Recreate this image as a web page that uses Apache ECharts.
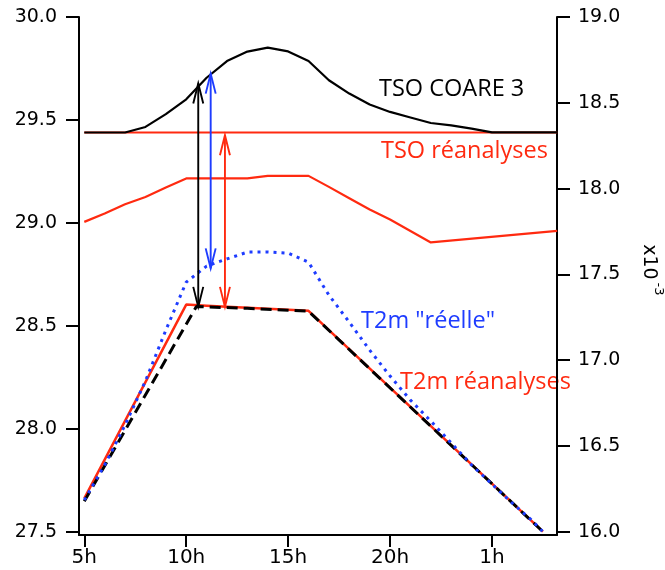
<!DOCTYPE html>
<html>
<head>
<meta charset="utf-8">
<script src="https://cdn.jsdelivr.net/npm/echarts@6/dist/echarts.min.js"></script>
<style>
html,body{margin:0;padding:0;background:#fff;}
#chart{width:665px;height:570px;}
</style>
</head>
<body>
<div id="chart"></div>
<script>
// ---- data (hours since midnight of day 1; 25 = 1h next day) ----
const xTickValues = [5, 10, 15, 20, 25];
const xTickLabels = ['5h', '10h', '15h', '20h', '1h'];
const yLeftTicks = [27.5, 28.0, 28.5, 29.0, 29.5, 30.0];
const yRightTicks = [16.0, 16.5, 17.0, 17.5, 18.0, 18.5, 19.0];

const tsoCoareHours = [5, 6, 7, 8, 9, 10, 11, 12, 13, 14, 15, 16, 17, 18, 19, 20, 21, 22, 23, 24, 25, 28.2];
const tsoCoareVals  = [29.439, 29.439, 29.439, 29.466, 29.528, 29.600, 29.705, 29.786, 29.832, 29.851, 29.833, 29.786, 29.693, 29.628, 29.575, 29.539, 29.512, 29.485, 29.474, 29.458, 29.440, 29.440];

const tsoReaHours = [5, 28.2];
const tsoReaVals  = [29.439, 29.439];

// second red curve, read on the right axis (x10^-3)
const qReaHours = [5, 6, 7, 8, 9, 10, 13, 14, 16, 17, 18, 19, 20, 22, 28.2];
const qReaVals  = [17.806, 17.855, 17.909, 17.951, 18.006, 18.059, 18.059, 18.074, 18.074, 18.010, 17.944, 17.878, 17.820, 17.686, 17.753];

const t2mReaHours = [5, 10, 11, 12, 13, 14, 15, 16, 27.5];
const t2mReaVals  = [27.662, 28.603, 28.598, 28.593, 28.588, 28.583, 28.578, 28.573, 27.500];

const t2mCoareHours = [5, 10.5, 11, 13, 15, 16, 27.5];
const t2mCoareVals  = [27.648, 28.594, 28.592, 28.585, 28.576, 28.571, 27.500];

const t2mRealHours = [5, 6, 7, 8, 9, 10, 11, 12, 13, 14, 15, 16, 17, 18, 19, 20, 21, 22, 23, 24, 25, 26, 27, 27.5];
const t2mRealVals  = [27.654, 27.824, 28.018, 28.232, 28.479, 28.712, 28.790, 28.825, 28.858, 28.859, 28.853, 28.809, 28.649, 28.518, 28.382, 28.256, 28.139, 28.037, 27.931, 27.824, 27.731, 27.639, 27.551, 27.500];

const arrowHours   = [10.59, 11.20, 11.90];
const arrowTops    = [29.677, 29.725, 29.426];
const arrowBottoms = [28.592, 28.779, 28.592];

// ---- styles ----
const RED = '#ff2a10';
const BLUE = '#1e3cff';
const BLACK = '#000000';
const FONT = 'DejaVu Sans';
const NOTE_FONT = 'Open Sans';

const zip = (xs, ys) => xs.map((x, i) => [x, ys[i]]);

function arrowItem(params, api) {
  const h = api.value(0);
  const p1 = api.coord([h, api.value(1)]);
  const p2 = api.coord([h, api.value(2)]);
  const c = api.visual('color');
  const hw = 5, hl = 20, lw = 1.9;
  const st = {stroke: c, lineWidth: lw, fill: null};
  return {
    type: 'group',
    children: [
      {type: 'line', shape: {x1: p1[0], y1: p1[1], x2: p2[0], y2: p2[1]}, style: st},
      {type: 'polyline', shape: {points: [[p1[0] - hw, p1[1] + hl], [p1[0], p1[1]], [p1[0] + hw, p1[1] + hl]]}, style: st},
      {type: 'polyline', shape: {points: [[p2[0] - hw, p2[1] - hl], [p2[0], p2[1]], [p2[0] + hw, p2[1] - hl]]}, style: st}
    ]
  };
}

function lineSeries(name, data, color, width, type, yIdx) {
  return {
    name: name, type: 'line', data: data, yAxisIndex: yIdx || 0,
    showSymbol: false, symbol: 'none', silent: true, animation: false,
    lineStyle: {color: color, width: width, type: type || 'solid', cap: 'butt'}
  };
}

const arrowColors = [BLACK, BLUE, RED];
const arrowSeries = arrowHours.map((h, i) => ({
  type: 'custom', renderItem: arrowItem, silent: true, animation: false,
  itemStyle: {color: arrowColors[i]},
  encode: {x: 0, y: [1, 2]},
  data: [[h, arrowTops[i], arrowBottoms[i]]],
  z: 10
}));

const axisCommon = {
  axisLine: {show: true, lineStyle: {color: BLACK, width: 2}},
  splitLine: {show: false}
};

const chart = echarts.init(document.getElementById('chart'), null, {renderer: 'canvas'});
chart.setOption({
  animation: false,
  backgroundColor: '#fff',
  grid: {left: 79, right: 108, top: 17, bottom: 35, containLabel: false},
  xAxis: {
    type: 'value', min: 4.74, max: 28.19,
    axisLine: {show: true, onZero: false, lineStyle: {color: BLACK, width: 2}},
    axisTick: {show: true, length: 12, lineStyle: {color: BLACK, width: 2}, customValues: xTickValues},
    axisLabel: {
      customValues: xTickValues, margin: 13, color: BLACK, fontSize: 20, fontFamily: FONT,
      formatter: v => xTickLabels[xTickValues.indexOf(v)] || ''
    },
    splitLine: {show: false}
  },
  yAxis: [
    Object.assign({}, axisCommon, {
      type: 'value', position: 'left', min: 27.484, max: 30.0,
      axisTick: {show: true, length: 13, lineStyle: {color: BLACK, width: 2}, customValues: yLeftTicks},
      axisLabel: {customValues: yLeftTicks, margin: 22, color: BLACK, fontSize: 19, fontFamily: FONT,
        formatter: v => v.toFixed(1)}
    }),
    Object.assign({}, axisCommon, {
      type: 'value', position: 'right', min: 15.981, max: 19.0,
      axisTick: {show: true, length: 13, lineStyle: {color: BLACK, width: 2}, customValues: yRightTicks},
      axisLabel: {customValues: yRightTicks, margin: 21, color: BLACK, fontSize: 19, fontFamily: FONT,
        formatter: v => v.toFixed(1)}
    })
  ],
  series: [
    lineSeries('TSO réanalyses', zip(tsoReaHours, tsoReaVals), RED, 2),
    lineSeries('TSO COARE 3', zip(tsoCoareHours, tsoCoareVals), BLACK, 2.2),
    lineSeries('q réanalyses', zip(qReaHours, qReaVals), RED, 2.2, 'solid', 1),
    lineSeries('T2m réanalyses', zip(t2mReaHours, t2mReaVals), RED, 2.5),
    lineSeries('T2m COARE', zip(t2mCoareHours, t2mCoareVals), BLACK, 3, [11, 6]),
    lineSeries('T2m "réelle"', zip(t2mRealHours, t2mRealVals), BLUE, 3, [3, 5])
  ].concat(arrowSeries),
  graphic: [
    {type: 'text', x: 379, y: 89, silent: true, style: {text: 'TSO COARE 3', fill: BLACK, fontSize: 23.5, fontFamily: NOTE_FONT, align: 'left', verticalAlign: 'middle'}},
    {type: 'text', x: 381, y: 151, silent: true, style: {text: 'TSO réanalyses', fill: RED, fontSize: 23.5, fontFamily: NOTE_FONT, align: 'left', verticalAlign: 'middle'}},
    {type: 'text', x: 361, y: 321, silent: true, style: {text: 'T2m "réelle"', fill: BLUE, fontSize: 23.5, fontFamily: NOTE_FONT, align: 'left', verticalAlign: 'middle'}},
    {type: 'text', x: 400, y: 382, silent: true, style: {text: 'T2m réanalyses', fill: RED, fontSize: 23.5, fontFamily: NOTE_FONT, align: 'left', verticalAlign: 'middle'}},
    {type: 'text', x: 649, y: 262, rotation: -Math.PI / 2, silent: true, style: {text: 'x10', fill: BLACK, fontSize: 19, fontFamily: FONT, align: 'center', verticalAlign: 'middle'}},
    {type: 'text', x: 658, y: 289, rotation: -Math.PI / 2, silent: true, style: {text: '-3', fill: BLACK, fontSize: 13, fontFamily: FONT, align: 'center', verticalAlign: 'middle'}}
  ]
});
</script>
</body>
</html>
